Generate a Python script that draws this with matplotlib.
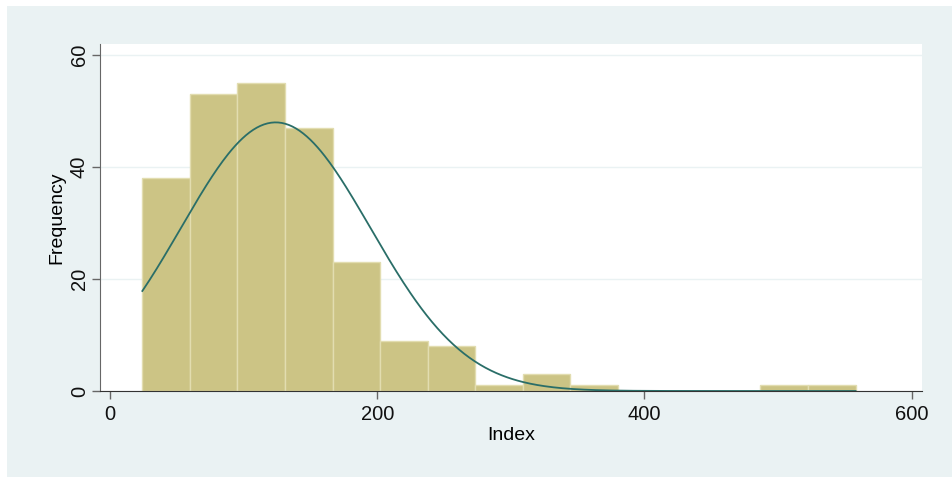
import numpy as np
import matplotlib.pyplot as plt
from matplotlib.patches import Rectangle

# histogram bins
bin_start = 24.2
bin_width = 35.59
counts = [38, 53, 55, 47, 23, 9, 8, 1, 3, 1, 0, 0, 0, 1, 1]

# fitted normal overlay
mean_index = 124
sd_index = 71
n_obs = sum(counts)

x_ticks = [0, 200, 400, 600]
y_ticks = [0, 20, 40, 60]

plt.rcParams['font.family'] = ['Liberation Sans', 'DejaVu Sans']

fig = plt.figure(figsize=(9.52, 4.78), dpi=100, facecolor='white')
fig.patches.append(Rectangle((7 / 952, 1 / 478), 1 - 7 / 952, 1 - 7 / 478,
                             transform=fig.transFigure, facecolor='#eaf2f3',
                             edgecolor='none', zorder=-10))

ax = fig.add_axes([100 / 952, 87 / 478, 822 / 952, 347 / 478])
ax.set_facecolor('white')

edges = bin_start + bin_width * np.arange(len(counts) + 1)
ax.bar(edges[:-1], counts, width=bin_width, align='edge',
       color='#ccc485', edgecolor='#e2ddb0', linewidth=1.0, zorder=2)

xs = np.linspace(edges[0], edges[-1], 400)
dens = n_obs * bin_width / (sd_index * np.sqrt(2 * np.pi)) * np.exp(-0.5 * ((xs - mean_index) / sd_index) ** 2)
ax.plot(xs, dens, color='#2a6e68', lw=1.3, zorder=3)

ax.set_xlim(-7.5, 607.8)
ax.set_ylim(0, 62)
ax.set_xticks(x_ticks)
ax.set_yticks(y_ticks)
ax.set_yticklabels([str(v) for v in y_ticks], rotation=90, va='center')
ax.yaxis.grid(True, color='#eaf2f3', lw=1.0, zorder=1)
ax.set_axisbelow(True)

for s in ['top', 'right']:
    ax.spines[s].set_visible(False)
ax.spines['left'].set_color('#666666')
ax.spines['bottom'].set_color('#333333')
ax.tick_params(axis='both', direction='out', length=6, width=1, color='#666666',
               labelsize=14.5, labelcolor='#111111', pad=4)
ax.tick_params(axis='y', pad=2)

ax.set_xlabel('Index', fontsize=14, labelpad=2)
ax.set_ylabel('Frequency', fontsize=14, labelpad=3)

fig.savefig('out.png', dpi=100, facecolor='white')
